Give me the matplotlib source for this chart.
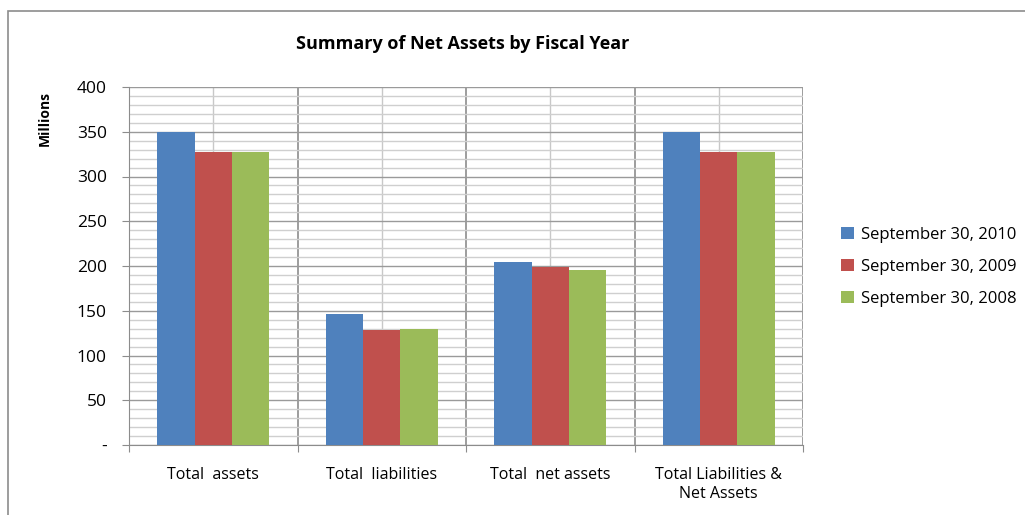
import matplotlib.pyplot as plt
import numpy as np
from matplotlib.ticker import FixedLocator, MultipleLocator

categories = ["Total  assets", "Total  liabilities", "Total  net assets", "Total Liabilities &\nNet Assets"]
series_names = ["September 30, 2010", "September 30, 2009", "September 30, 2008"]
fy2010 = [350, 146, 205, 350]
fy2009 = [327, 129, 199, 327]
fy2008 = [327, 130, 196, 327]
yticks = [0, 50, 100, 150, 200, 250, 300, 350, 400]
ytick_labels = ["-", "50", "100", "150", "200", "250", "300", "350", "400"]

colors = ["#4F81BD", "#C0504D", "#9BBB59"]

plt.rcParams["font.family"] = ["Open Sans", "DejaVu Sans"]

fig = plt.figure(figsize=(10.25, 5.15), dpi=100)
# chart border (top and left visible in the original)
fig.add_artist(plt.Rectangle((8 / 1025, -0.1), 1.2, 1 - 11 / 515 + 0.1,
                             transform=fig.transFigure, fill=False,
                             edgecolor="#8c8c8c", linewidth=1.2))

ax = fig.add_axes([129 / 1025, 1 - 445 / 515, (803 - 129) / 1025, (445 - 87) / 515])

x = np.arange(len(categories))
w = 0.222
for i, (vals, name) in enumerate(zip([fy2010, fy2009, fy2008], series_names)):
    ax.bar(x + (i - 1) * w, vals, width=w, color=colors[i], label=name, zorder=3,
           edgecolor="none")

ax.set_xlim(-0.5, len(categories) - 0.5)
ax.set_ylim(0, 400)

# y grid
ax.yaxis.set_major_locator(FixedLocator(yticks))
ax.yaxis.set_minor_locator(MultipleLocator(10))
ax.set_yticklabels(ytick_labels)
ax.grid(axis="y", which="major", color="#9a9a9a", linewidth=1.0, zorder=0)
ax.grid(axis="y", which="minor", color="#cfcfcf", linewidth=1.0, zorder=0)
ax.tick_params(axis="y", which="minor", length=0)

# x: boundaries as major, centers as minor
ax.set_xticks(np.arange(len(categories) + 1) - 0.5)
ax.set_xticklabels([])
ax.set_xticks(x, minor=True)
ax.set_xticklabels(categories, minor=True, fontsize=11.5)
ax.tick_params(axis="x", which="minor", length=0, pad=16)
ax.tick_params(axis="x", which="major", length=5, color="#8c8c8c")
ax.tick_params(axis="y", which="major", length=5, color="#8c8c8c", labelsize=12.5, pad=11)
ax.grid(axis="x", which="major", color="#8c8c8c", linewidth=1.2, zorder=0)
ax.grid(axis="x", which="minor", color="#c8c8c8", linewidth=1.0, zorder=0)

for s in ["top", "right"]:
    ax.spines[s].set_visible(False)
ax.spines["left"].set_color("#8c8c8c")
ax.spines["bottom"].set_color("#8c8c8c")

fig.text(45 / 1025, 1 - 119 / 515, "Millions", rotation=90, ha="center", va="center",
         fontsize=10, fontweight="bold")
fig.text(463 / 1025, 1 - 44 / 515, "Summary of Net Assets by Fiscal Year",
         ha="center", va="center", fontsize=13, fontweight="bold")

fig.legend(loc="center left", bbox_to_anchor=(826 / 1025, 1 - 267 / 515),
           frameon=False, fontsize=12, handlelength=0.75, handleheight=0.75,
           handletextpad=0.45, labelspacing=0.95)

fig.savefig("out.png", dpi=100)
